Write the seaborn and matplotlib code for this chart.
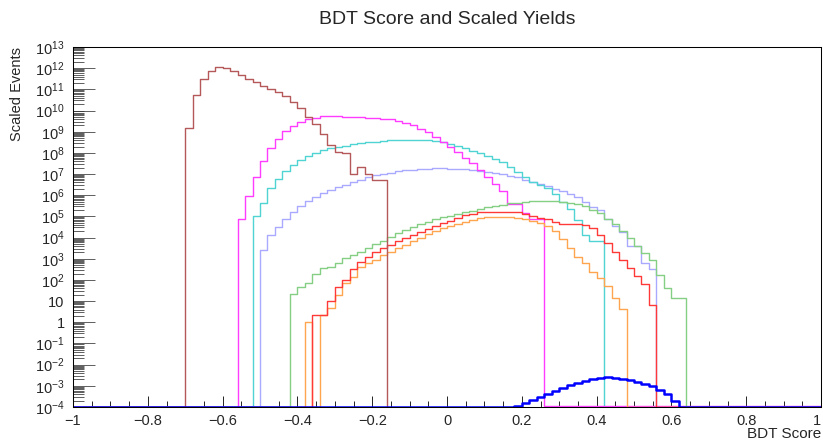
import numpy as np
import pandas as pd
import matplotlib
matplotlib.use("Agg")
import matplotlib.pyplot as plt
import seaborn as sns
from matplotlib.ticker import LogLocator, FixedLocator, FuncFormatter, MultipleLocator, NullFormatter

# ---- binning and axis ranges ----
n_bins = 100
x_min, x_max = -1.0, 1.0
y_min, y_max = 1e-4, 1e13

# ---- histogram contents: low edge of first filled bin, then log10(yield) per 0.02 bin ----
brown_start = -0.70
brown_log10 = [9.18, 10.73, 11.49, 11.85, 12.04, 12.00, 11.88, 11.69, 11.50, 11.33,
               11.17, 11.02, 10.88, 10.69, 10.42, 10.11, 9.71, 9.35, 8.89, 8.36,
               8.06, 7.98, 7.00, 7.32, 6.99, 6.72, 6.72]

magenta_start = -0.56
magenta_log10 = [4.86, 5.97, 6.85, 7.60, 8.23, 8.67, 9.03, 9.28, 9.47, 9.60,
                 9.66, 9.72, 9.73, 9.72, 9.71, 9.70, 9.69, 9.67, 9.65, 9.62,
                 9.58, 9.52, 9.43, 9.30, 9.15, 8.97, 8.76, 8.52, 8.28, 8.04,
                 7.77, 7.50, 7.20, 6.88, 6.53, 6.22, 5.58, 5.58, 5.15, 4.86, 4.86]

cyan_start = -0.52
cyan_log10 = [5.02, 5.65, 6.33, 6.77, 7.15, 7.41, 7.65, 7.84, 8.00, 8.14,
              8.23, 8.30, 8.34, 8.41, 8.45, 8.50, 8.53, 8.56, 8.59, 8.61,
              8.62, 8.62, 8.62, 8.60, 8.57, 8.50, 8.40, 8.31, 8.22, 8.11,
              7.98, 7.87, 7.71, 7.56, 7.32, 7.11, 6.88, 6.64, 6.48, 6.33,
              6.06, 5.68, 5.34, 4.83, 4.12, 3.84, 3.84]

lavender_start = -0.50
lavender_log10 = [3.42, 4.12, 4.52, 4.88, 5.21, 5.51, 5.73, 5.92, 6.09, 6.24,
                  6.37, 6.50, 6.62, 6.74, 6.85, 6.94, 7.01, 7.07, 7.13, 7.17,
                  7.21, 7.24, 7.26, 7.27, 7.27, 7.26, 7.24, 7.22, 7.19, 7.15,
                  7.11, 7.05, 6.99, 6.92, 6.85, 6.74, 6.64, 6.52, 6.43, 6.31,
                  6.21, 6.08, 5.93, 5.69, 5.43, 5.28, 4.89, 4.56, 4.25, 3.58,
                  3.58, 2.82, 2.54]

green_start = -0.42
green_log10 = [1.35, 1.65, 1.87, 2.27, 2.58, 2.62, 2.80, 3.02, 3.18, 3.34,
               3.52, 3.68, 3.86, 4.04, 4.20, 4.36, 4.52, 4.63, 4.75, 4.86,
               4.96, 5.03, 5.11, 5.20, 5.27, 5.35, 5.43, 5.49, 5.55, 5.62,
               5.65, 5.68, 5.71, 5.73, 5.74, 5.73, 5.70, 5.65, 5.57, 5.47,
               5.30, 5.15, 4.90, 4.64, 4.33, 3.97, 3.61, 3.26, 2.92, 2.24,
               1.61, 1.17, 1.17]

red_start = -0.36
red_log10 = [0.35, 0.35, 1.00, 1.65, 2.00, 2.52, 2.86, 3.10, 3.31, 3.49,
             3.65, 3.82, 3.97, 4.14, 4.28, 4.41, 4.55, 4.67, 4.80, 4.93,
             5.05, 5.13, 5.19, 5.21, 5.22, 5.22, 5.21, 5.19, 5.12, 5.02,
             4.92, 4.87, 4.73, 4.64, 4.63, 4.62, 4.61, 4.43, 4.14, 3.75,
             3.32, 2.94, 2.55, 2.18, 1.80, 0.82]

orange_start = -0.38
orange_log10 = [0.03, np.nan, 0.35, 0.68, 1.30, 1.84, 2.16, 2.63, 2.79, 2.94,
                3.18, 3.34, 3.49, 3.65, 3.84, 4.00, 4.16, 4.31, 4.44, 4.55,
                4.66, 4.75, 4.83, 4.91, 4.96, 4.99, 4.99, 4.96, 4.91, 4.86,
                4.80, 4.70, 4.54, 4.31, 3.95, 3.49, 3.10, 2.79, 2.39, 2.08,
                1.72, 1.13, 0.61]

blue_start = 0.18
blue_log10 = [-3.93, -3.79, -3.67, -3.51, -3.38, -3.24, -3.11, -2.97, -2.85, -2.76,
              -2.68, -2.63, -2.60, -2.61, -2.66, -2.72, -2.80, -2.91, -3.01, -3.20,
              -3.38, -3.70]

x_tick_values = [-1.0, -0.8, -0.6, -0.4, -0.2, 0.0, 0.2, 0.4, 0.6, 0.8, 1.0]
x_tick_labels = ["\u22121", "\u22120.8", "\u22120.6", "\u22120.4", "\u22120.2", "0",
                 "0.2", "0.4", "0.6", "0.8", "1"]

title_text = "BDT Score and Scaled Yields"
x_title = "BDT Score"
y_title = "Scaled Events"

# ---- style ----
sns.set_style("white")
plt.rcParams["font.family"] = ["Liberation Sans", "DejaVu Sans"]
plt.rcParams["mathtext.fontset"] = "custom"
plt.rcParams["mathtext.rm"] = "Liberation Sans"
plt.rcParams["mathtext.it"] = "Liberation Sans:italic"
plt.rcParams["mathtext.bf"] = "Liberation Sans:bold"
plt.rcParams["axes.unicode_minus"] = True

edges = np.linspace(x_min, x_max, n_bins + 1)
centers = 0.5 * (edges[:-1] + edges[1:])
bin_width = edges[1] - edges[0]


def full_contents(start, log_vals):
    """Expand a filled stretch of bins into all 100 bins; empty bins rest on the frame floor."""
    contents = np.zeros(n_bins)
    i0 = int(round((start - x_min) / bin_width))
    lv = np.asarray(log_vals, dtype=float)
    contents[i0:i0 + len(lv)] = np.where(np.isnan(lv), 0.0, 10.0 ** lv)
    return np.maximum(contents, y_min)


fig = plt.figure(figsize=(8.23, 4.41), dpi=100)
ax = fig.add_axes([73 / 823, 1 - 407 / 441, 748 / 823, 360 / 441])

samples = [
    (lavender_start, lavender_log10, "#a9a9ff", 1.0),
    (cyan_start, cyan_log10, "#4fd3d3", 1.0),
    (magenta_start, magenta_log10, "#ff3cff", 1.0),
    (green_start, green_log10, "#84cf84", 1.0),
    (orange_start, orange_log10, "#ffa54f", 1.0),
    (red_start, red_log10, "#ff3838", 1.0),
    (brown_start, brown_log10, "#b4585a", 1.0),
    (blue_start, blue_log10, "#0000ff", 1.8),
]

for start, logs, color, lw in samples:
    df = pd.DataFrame({"score": centers, "events": full_contents(start, logs)})
    sns.histplot(data=df, x="score", weights="events", bins=edges.tolist(),
                 element="step", fill=False, color=color, linewidth=lw, ax=ax)

ax.set_yscale("log")
ax.set_xlim(x_min, x_max)
ax.set_ylim(y_min, y_max)

# ---- ticks ----
ax.xaxis.set_major_locator(FixedLocator(x_tick_values))
ax.set_xticklabels(x_tick_labels)
ax.xaxis.set_minor_locator(MultipleLocator(0.05))
# keep the label at the right frame edge inside the canvas
ax.get_xticklabels()[-1].set_horizontalalignment("right")

ax.yaxis.set_major_locator(LogLocator(base=10, numticks=40))
ax.yaxis.set_minor_locator(LogLocator(base=10, subs=np.arange(2, 10), numticks=40))
ax.yaxis.set_minor_formatter(NullFormatter())


def decade_label(v, pos):
    n = int(round(np.log10(v)))
    if n == 0:
        return "1"
    if n == 1:
        return "10"
    return r"$10^{%d}$" % n


ax.yaxis.set_major_formatter(FuncFormatter(decade_label))

ax.tick_params(axis="x", which="both", bottom=True, top=False, direction="in",
               width=0.6, color="black")
ax.tick_params(axis="x", which="major", length=7.9, labelsize=10.5, pad=5)
ax.tick_params(axis="x", which="minor", length=4.0)
ax.tick_params(axis="y", which="both", left=True, right=False, direction="in",
               width=0.55, color="#333333")
ax.tick_params(axis="y", which="major", length=15.8, labelsize=10.5, pad=6)
ax.tick_params(axis="y", which="minor", length=7.9)

for sp in ax.spines.values():
    sp.set_color("black")
    sp.set_linewidth(0.75)

# ---- titles ----
ax.set_xlabel(x_title, fontsize=11, ha="right", va="center")
ax.xaxis.set_label_coords(1.0, (407 - 434) / 360)
ax.set_ylabel(y_title, fontsize=10.5, ha="right", va="center")
ax.yaxis.set_label_coords((17 - 73) / 748, 1.0)
ax.set_title(title_text, fontsize=14, y=(407 - 19) / 360, va="center", pad=0)

fig.savefig("out.png", dpi=100)
